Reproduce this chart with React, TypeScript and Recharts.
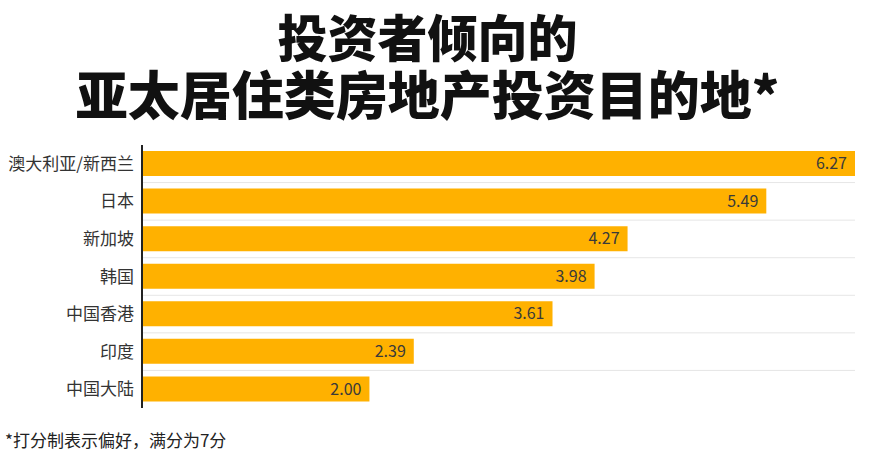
import React from 'react';
import { BarChart, Bar, XAxis, YAxis, CartesianGrid, LabelList } from 'recharts';

const regions = ['澳大利亚/新西兰', '日本', '新加坡', '韩国', '中国香港', '印度', '中国大陆'];
const scores = [6.27, 5.49, 4.27, 3.98, 3.61, 2.39, 2.0];

const titleLines = ['投资者倾向的', '亚太居住类房地产投资目的地*'];
const footnote = '*打分制表示偏好，满分为7分';

const data = regions.map((name, i) => ({ name, value: scores[i] }));

const FONT = '"Noto Sans CJK SC", "Noto Sans", sans-serif';

const App = () => {
    return (
        <div
            style={{
                position: 'absolute',
                left: 0,
                top: 0,
                width: 870,
                height: 463,
                background: '#fff',
                fontFamily: FONT,
                overflow: 'hidden',
            }}
        >
            {/* title */}
            <div
                style={{
                    position: 'absolute',
                    left: 0,
                    top: 6,
                    width: 855,
                    textAlign: 'center',
                    fontWeight: 900,
                    color: '#111',
                }}
            >
                <div style={{ fontSize: 50, lineHeight: '58px' }}>{titleLines[0]}</div>
                <div style={{ fontSize: 52, lineHeight: '58px' }}>{titleLines[1]}</div>
            </div>

            <div style={{ position: 'absolute', left: 0, top: 0 }}>
                <BarChart
                    width={870}
                    height={463}
                    data={data}
                    layout="vertical"
                    margin={{ top: 145, right: 15, bottom: 55, left: 0 }}
                >
                    <CartesianGrid
                        vertical={false}
                        stroke="#e6e6e6"
                        horizontalCoordinatesGenerator={({ offset }: any) => {
                            const band = offset.height / regions.length;
                            return regions.slice(1).map((_, i) => offset.top + band * (i + 1));
                        }}
                    />
                    <XAxis type="number" domain={[0, 'dataMax']} hide />
                    <YAxis
                        type="category"
                        dataKey="name"
                        width={142}
                        tickLine={false}
                        tickSize={0}
                        tickMargin={8}
                        axisLine={{ stroke: '#222', strokeWidth: 2 }}
                        tick={{ fill: '#333', fontSize: 17, fontFamily: FONT }}
                        interval={0}
                    />
                    <Bar dataKey="value" fill="#FFB100" barSize={25} isAnimationActive={false}>
                        <LabelList
                            dataKey="value"
                            position="insideRight"
                            offset={8}
                            fill="#3a3a3a"
                            fontSize={16}
                            fontFamily={FONT}
                            formatter={(v: any) => Number(v).toFixed(2)}
                        />
                    </Bar>
                </BarChart>
            </div>

            {/* footnote */}
            <div
                style={{
                    position: 'absolute',
                    left: 5,
                    top: 428,
                    fontSize: 17,
                    lineHeight: '24px',
                    color: '#222',
                }}
            >
                {footnote}
            </div>
        </div>
    );
};

export default App;
